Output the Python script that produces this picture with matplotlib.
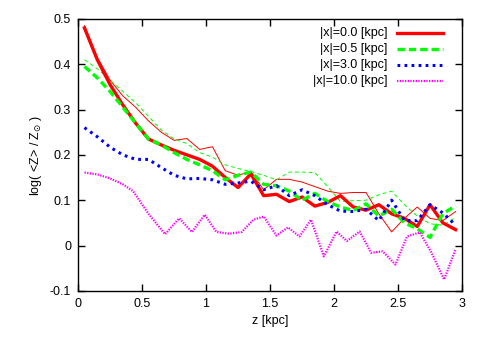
import matplotlib
matplotlib.use('Agg')
import matplotlib.pyplot as plt

# z bins [kpc]
z = [0.05, 0.15, 0.25, 0.35, 0.45, 0.55, 0.65, 0.75, 0.85, 0.95,
     1.05, 1.15, 1.25, 1.35, 1.45, 1.55, 1.65, 1.75, 1.85, 1.95,
     2.05, 2.15, 2.25, 2.35, 2.45, 2.55, 2.65, 2.75, 2.85, 2.95]

# |x| = 0.0 kpc, thick and thin versions
x00 = [0.48, 0.41, 0.355, 0.31, 0.27, 0.235, 0.222, 0.21, 0.2, 0.19,
       0.175, 0.15, 0.128, 0.158, 0.11, 0.113, 0.097, 0.107, 0.087, 0.095,
       0.11, 0.085, 0.078, 0.09, 0.07, 0.06, 0.042, 0.09, 0.05, 0.035]
x00_thin = [0.485, 0.415, 0.365, 0.33, 0.305, 0.275, 0.25, 0.232, 0.236, 0.212,
            0.218, 0.165, 0.155, 0.163, 0.123, 0.146, 0.146, 0.14, 0.13, 0.12,
            0.115, 0.117, 0.117, 0.07, 0.03, 0.06, 0.085, 0.06, 0.055, 0.075]

# |x| = 0.5 kpc
x05 = [0.395, 0.37, 0.34, 0.305, 0.27, 0.235, 0.222, 0.205, 0.19, 0.178,
       0.165, 0.145, 0.155, 0.162, 0.135, 0.132, 0.12, 0.1, 0.115, 0.097,
       0.085, 0.077, 0.092, 0.065, 0.08, 0.05, 0.037, 0.018, 0.07, 0.088]
x05_thin = [0.41, 0.39, 0.365, 0.34, 0.315, 0.285, 0.255, 0.235, 0.225, 0.205,
            0.195, 0.178, 0.17, 0.163, 0.155, 0.145, 0.162, 0.162, 0.161, 0.13,
            0.097, 0.099, 0.1, 0.112, 0.12, 0.09, 0.065, 0.048, 0.045, 0.062]

# |x| = 3.0 kpc
x30 = [0.26, 0.24, 0.217, 0.2, 0.19, 0.19, 0.172, 0.155, 0.147, 0.148,
       0.145, 0.135, 0.138, 0.142, 0.123, 0.132, 0.11, 0.123, 0.11, 0.09,
       0.076, 0.075, 0.08, 0.055, 0.1, 0.055, 0.055, 0.09, 0.072, 0.045]

# |x| = 10.0 kpc (own sampling)
z10 = [0.05, 0.15, 0.25, 0.35, 0.43, 0.55, 0.68, 0.79, 0.89, 0.99,
       1.08, 1.18, 1.28, 1.37, 1.45, 1.55, 1.64, 1.73, 1.82, 1.92,
       2.02, 2.1, 2.2, 2.29, 2.38, 2.48, 2.57, 2.67, 2.76, 2.86, 2.95]
x10 = [0.161, 0.157, 0.148, 0.135, 0.12, 0.07, 0.025, 0.06, 0.03, 0.068,
       0.03, 0.026, 0.03, 0.057, 0.064, 0.022, 0.04, 0.02, 0.057, -0.024,
       0.031, 0.01, 0.031, -0.016, -0.013, -0.042, 0.02, 0.029, -0.015, -0.075, -0.008]

labels = ['|x|=0.0 [kpc]', '|x|=0.5 [kpc]', '|x|=3.0 [kpc]', '|x|=10.0 [kpc]']
xticks = [0, 0.5, 1, 1.5, 2, 2.5, 3]
yticks = [-0.1, 0, 0.1, 0.2, 0.3, 0.4, 0.5]

plt.rcParams['font.family'] = ['Liberation Sans', 'DejaVu Sans']
plt.rcParams['mathtext.fontset'] = 'dejavusans'

fig = plt.figure(figsize=(4.91, 3.43), dpi=100)
ax = fig.add_axes([0.159, 0.152, 0.782, 0.793])

red = dict(color='#ff0000', lw=2.4)
green = dict(color='#00ff00', lw=2.4, dashes=(2.2, 1.2))
blue = dict(color='#0000ff', lw=2.2, dashes=(0.9, 1.4))
magenta = dict(color='#ff00ff', lw=1.6, dashes=(0.6, 0.6))

ax.plot(z, x00_thin, color='#ff0000', lw=0.7)
ax.plot(z, x05_thin, color='#00ff00', lw=0.7, dashes=(4, 3))
ax.plot(z, x00, **red)
ax.plot(z, x05, **green)
ax.plot(z, x30, **blue)
ax.plot(z10, x10, **magenta)

ax.set_xlim(0, 3)
ax.set_ylim(-0.1, 0.5)
ax.set_xticks(xticks)
ax.set_xticklabels(['0', '0.5', '1', '1.5', '2', '2.5', '3'])
ax.set_yticks(yticks)
ax.set_yticklabels(['-0.1', '0', '0.1', '0.2', '0.3', '0.4', '0.5'])
ax.tick_params(direction='in', length=5, width=1, top=True, right=True,
               labelsize=9, pad=5)
for s in ax.spines.values():
    s.set_linewidth(1)

ax.set_xlabel('z [kpc]', fontsize=9)
ax.set_ylabel(r'log( <Z> / Z$_{\odot}$ )', fontsize=9)

# gnuplot style key: right aligned text, sample line to the right
rows = [0.949, 0.890, 0.831, 0.772]
for lab, yy, st in zip(labels, rows, [red, green, blue, magenta]):
    ax.text(0.805, yy, lab, transform=ax.transAxes, ha='right', va='center',
            fontsize=9)
    ax.plot([0.831, 0.951], [yy, yy], transform=ax.transAxes, **st)

fig.savefig('out.png', dpi=100)
